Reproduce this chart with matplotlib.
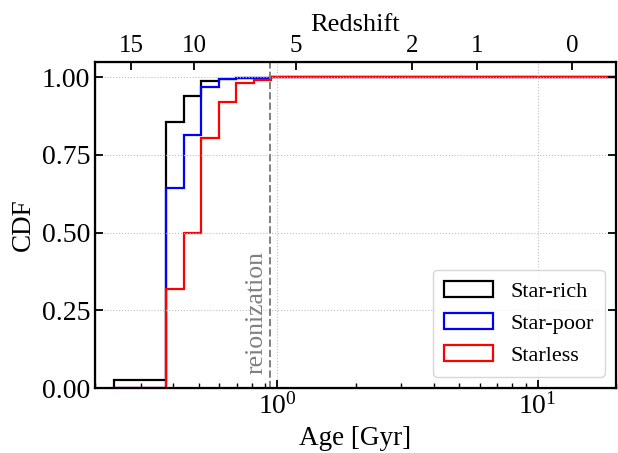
import numpy as np
import matplotlib
matplotlib.use('Agg')
import matplotlib.pyplot as plt
from matplotlib.patches import Patch

plt.rcParams['font.family'] = ['Liberation Serif', 'DejaVu Serif']
plt.rcParams['mathtext.fontset'] = 'stix'

# границы бинов по возрасту (Гyr)
edges = [0.236, 0.275, 0.322, 0.376, 0.440, 0.512, 0.598, 0.698, 0.815, 0.951, 30.0]

# кумулятивные распределения
cdf_rich = [0.025, 0.025, 0.025, 0.856, 0.940, 0.987, 0.995, 0.998, 0.999, 1.000]
cdf_poor = [0.0, 0.0, 0.0, 0.642, 0.813, 0.968, 0.994, 0.998, 0.999, 1.000]
cdf_less = [0.0, 0.0, 0.0, 0.317, 0.499, 0.803, 0.919, 0.983, 0.990, 1.000]

labels = ['Star-rich', 'Star-poor', 'Starless']
colors = ['black', 'blue', 'red']

# верхняя ось: красное смещение и соответствующий возраст
z_ticks = [15, 10, 5, 2, 1, 0]
z_ages = [0.276, 0.481, 1.18, 3.30, 5.87, 13.6]

t_reion = 0.94   # возраст при z = 6

fig = plt.figure(figsize=(6.18, 4.53), dpi=100)
ax = fig.add_axes([95/618, 1 - 388/453, 521/618, (388 - 61.7)/453])

for vals, c in zip([cdf_rich, cdf_poor, cdf_less], colors):
    ax.stairs(vals, edges, color=c, lw=1.6, baseline=0)

ax.axvline(t_reion, color='grey', ls='--', lw=1.4)
ax.text(0.915, 0.045, 'reionization', rotation=90, color='grey',
        fontsize=18.5, ha='right', va='bottom')

ax.set_xscale('log')
ax.set_xlim(0.2, 20)
ax.set_ylim(0, 1.05)
ax.set_yticks([0, 0.25, 0.5, 0.75, 1.0])
ax.set_xlabel('Age [Gyr]', fontsize=19.5, labelpad=5)
ax.set_ylabel('CDF', fontsize=19.5)
ax.grid(True, which='major', ls=':', color='0.75', lw=0.8)

ax.tick_params(axis='both', which='major', direction='in', length=6, width=1.3,
               labelsize=20, right=True)
ax.tick_params(axis='x', which='minor', direction='in', length=3.5, width=1.0)
ax.tick_params(axis='y', which='minor', left=False, right=False)
for s in ax.spines.values():
    s.set_linewidth(1.6)

top = ax.twiny()
top.set_xscale('log')
top.set_xlim(ax.get_xlim())
top.set_xticks(z_ages)
top.set_xticklabels([str(z) for z in z_ticks])
top.xaxis.set_minor_locator(matplotlib.ticker.NullLocator())
top.tick_params(axis='x', direction='in', length=6, width=1.3, labelsize=18)
top.set_xlabel('Redshift', fontsize=19, labelpad=3)

handles = [Patch(facecolor='none', edgecolor=c, lw=1.6) for c in colors]
ax.legend(handles, labels, loc='lower right', fontsize=16, handlelength=2.2,
          handleheight=0.75, labelspacing=0.5, borderpad=0.5)

fig.savefig('out.png', dpi=100)
